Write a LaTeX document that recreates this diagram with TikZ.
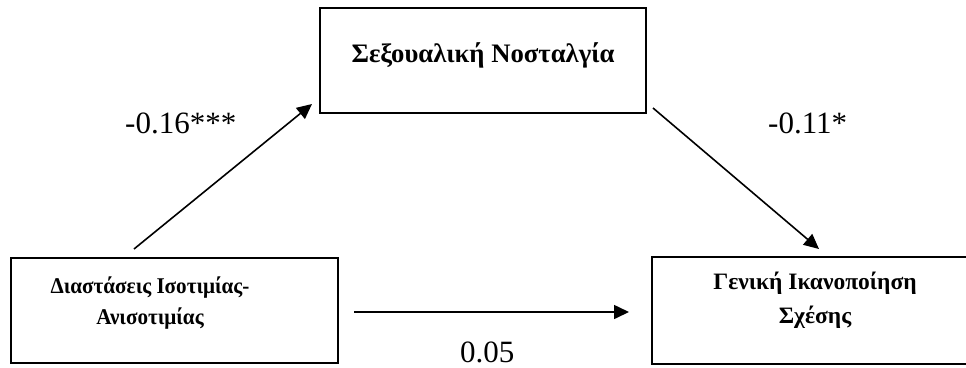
\documentclass[tikz,border=0pt]{standalone}
\usepackage{fontspec}
\setmainfont{Liberation Serif}
\newfontfamily\condserif[FakeStretch=0.94]{Liberation Serif}
\usetikzlibrary{arrows.meta}

\begin{document}
\begin{tikzpicture}[x=1pt,y=-1pt,
  box/.style={draw,line width=2pt,inner sep=0pt},
  boxtext/.style={align=center,inner sep=0pt},
  arr/.style={line width=1.6pt,-{Triangle[length=15pt,width=14pt]}},
  coef/.style={anchor=base west,inner sep=0pt,font=\fontsize{31}{36}\selectfont}]
\useasboundingbox (0,0) rectangle (966,367);

\node[box,minimum width=326pt,minimum height=105pt,
  label={[boxtext,yshift=5.5pt,font=\bfseries\fontsize{26.7}{32}\selectfont]center:Σεξουαλική Νοσταλγία}] (nos) at (483,60.5) {};
\node[box,minimum width=327pt,minimum height=105pt,
  label={[boxtext,xshift=-24.5pt,yshift=7.5pt,font=\condserif\bfseries\fontsize{22.5}{31}\selectfont]center:Διαστάσεις Ισοτιμίας-\\Ανισοτιμίας}] (dia) at (174.5,310.5) {};
\node[box,minimum width=330pt,minimum height=107pt,
  label={[boxtext,xshift=-2pt,yshift=10.5pt,font=\bfseries\fontsize{23.5}{34}\selectfont]center:Γενική Ικανοποίηση\\Σχέσης}] (gen) at (817,310.5) {};

\draw[arr] ([shift={(124,-8)}]dia.north west) -- ([shift={(-7,-10)}]nos.south west);
\draw[arr] ([shift={(6,-6)}]nos.south east) -- ([shift={(168,-7)}]gen.north west);
\draw[arr] ([shift={(15,1.5)}]dia.east) -- ([shift={(-22,1.5)}]gen.west);

\node[coef] (a) at (125,133) {-0.16***};
\node[coef] (b) at (768,133) {-0.11*};
\node[coef] (c) at (460,362) {0.05};
\end{tikzpicture}
\end{document}
